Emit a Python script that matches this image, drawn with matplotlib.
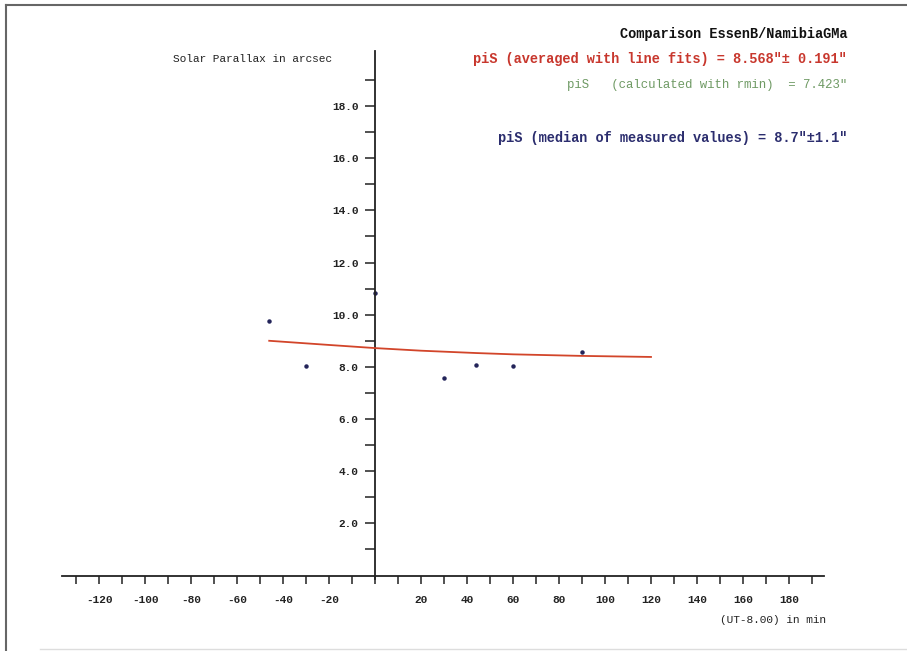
import numpy as np
import matplotlib.pyplot as plt
from matplotlib.ticker import FixedLocator, FuncFormatter
from matplotlib.lines import Line2D

# measured solar parallax values (time in min relative to UT-8.00, arcsec)
t_meas = [-46, -30, 0, 30, 44, 60, 90]
pi_meas = [9.75, 8.05, 10.84, 7.56, 8.07, 8.05, 8.56]

# averaged line fit curve
t_fit = [-46, -20, 0, 20, 44, 60, 90, 120]
pi_fit = [9.00, 8.84, 8.72, 8.62, 8.53, 8.48, 8.42, 8.38]

x_ticks = list(range(-130, 200, 10))
y_ticks = list(range(1, 20))

title = "Comparison EssenB/NamibiaGMa"
line_avg = 'piS (averaged with line fits) = 8.568"\u00b1 0.191"'
line_rmin = 'piS   (calculated with rmin)  = 7.423"'
line_med = 'piS (median of measured values) = 8.7"\u00b11.1"'

W, H = 907, 651
mono = ['Liberation Mono', 'DejaVu Sans Mono']

fig = plt.figure(figsize=(W / 100, H / 100), dpi=100)
ax = fig.add_axes([0, 0, 1, 1])
ax.patch.set_alpha(0)

# pixel mapping: x axis origin at px 375, 2.3 px/min; y origin at py 575.5, 26.08 px/arcsec
ax.set_xlim(-375 / 2.3, (W - 375) / 2.3)
ax.set_ylim((575.5 - H) / 26.08, 575.5 / 26.08)

for s in ['top', 'right']:
    ax.spines[s].set_visible(False)
ax.spines['left'].set_position(('data', 0))
ax.spines['bottom'].set_position(('data', 0))
ax.spines['left'].set_bounds(-0.15, 20.1)
ax.spines['bottom'].set_bounds(-136, 195)
for s in ['left', 'bottom']:
    ax.spines[s].set_linewidth(1.3)
    ax.spines[s].set_color('#222222')

ax.xaxis.set_major_locator(FixedLocator(x_ticks))
ax.xaxis.set_major_formatter(FuncFormatter(
    lambda v, p: '' if (v == 0 or int(v) % 20) else '%d' % v))
ax.yaxis.set_major_locator(FixedLocator(y_ticks))
ax.yaxis.set_major_formatter(FuncFormatter(
    lambda v, p: '%.1f' % v if int(v) % 2 == 0 else ''))
ax.tick_params(axis='x', direction='out', length=6, width=1.1, pad=8,
               colors='#222222', labelsize=8)
ax.tick_params(axis='y', direction='out', length=7, width=1.1, pad=5,
               colors='#222222', labelsize=8)
for lab in ax.get_xticklabels() + ax.get_yticklabels():
    lab.set_family(mono)
    lab.set_fontweight('bold')

ax.plot(t_fit, pi_fit, color='#d2452a', lw=1.3, zorder=3)
ax.plot(t_meas, pi_meas, ls='none', marker='o', ms=2.2, color='#23245a', zorder=2)

def ftext(px, py, s, **kw):
    fig.text(px / W, 1 - py / H, s, va='center', family=mono, **kw)

ftext(847, 34, title, ha='right', fontsize=9.8, fontweight='bold', color='#111111')
ftext(847, 59, line_avg, ha='right', fontsize=9.8, fontweight='bold', color='#c8372d')
ftext(847, 85, line_rmin, ha='right', fontsize=8.9, color='#6f9a64')
ftext(847, 138, line_med, ha='right', fontsize=9.8, fontweight='bold', color='#2b2d6e')
ftext(173, 59, 'Solar Parallax in arcsec', ha='left', fontsize=8, color='#222222')
ftext(826, 620, '(UT-8.00) in min', ha='right', fontsize=8, color='#222222')

# scanned page frame
fig.add_artist(Line2D([6 / W, 1], [1 - 5 / H, 1 - 5 / H], color='#666666', lw=1.5))
fig.add_artist(Line2D([6 / W, 6 / W], [1 - 5 / H, 0], color='#666666', lw=1.5))
fig.add_artist(Line2D([40 / W, 1], [1 - 649 / H, 1 - 649 / H], color='#dddddd', lw=1))

fig.savefig('out.png', dpi=100)
